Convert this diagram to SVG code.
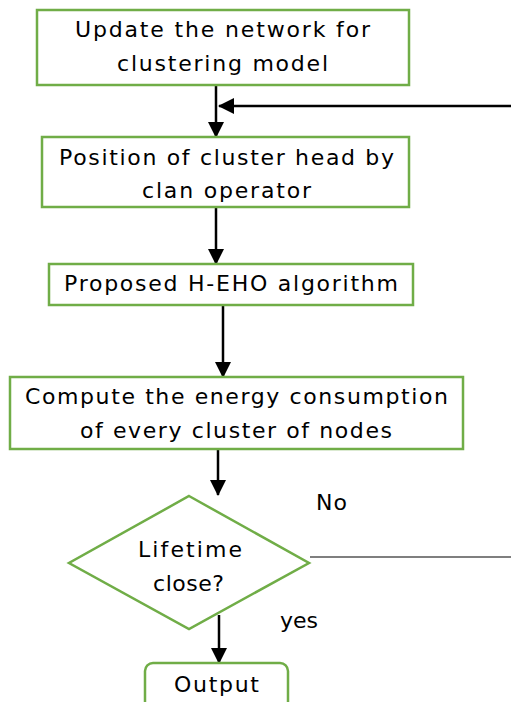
<svg xmlns="http://www.w3.org/2000/svg" width="511" height="702" viewBox="0 0 511 702">
<defs>
<marker id="ah" viewBox="0 0 16 16" refX="15" refY="8" markerWidth="16" markerHeight="16" markerUnits="userSpaceOnUse" orient="auto">
<path d="M0,0 L16,8 L0,16 Z" fill="#000"/>
</marker>
<style>
.box{fill:#fff;stroke:#70ad47;stroke-width:2.5}
.t{font-family:"DejaVu Sans",sans-serif;font-size:22px;fill:#000;text-anchor:middle}
.l{font-family:"DejaVu Sans",sans-serif;font-size:22px;fill:#000}
.c{stroke:#000;stroke-width:2.5;fill:none}
</style>
</defs>
<rect width="511" height="702" fill="#fff"/>
<g id="connectors">
<line class="c" x1="216" y1="85" x2="216" y2="137" marker-end="url(#ah)"/>
<line class="c" x1="511" y1="106" x2="219" y2="106" marker-end="url(#ah)"/>
<line class="c" x1="216" y1="207" x2="216" y2="264" marker-end="url(#ah)"/>
<line class="c" x1="223" y1="305" x2="223" y2="377" marker-end="url(#ah)"/>
<line class="c" x1="218" y1="449" x2="218" y2="495" marker-end="url(#ah)"/>
<line x1="310" y1="557" x2="511" y2="557" stroke="#555" stroke-width="1.5"/>
<line class="c" x1="219" y1="615" x2="219" y2="663" marker-end="url(#ah)"/>
<text class="l" x="316" y="510" textLength="31" lengthAdjust="spacing">No</text>
<text class="l" x="280" y="628" textLength="38" lengthAdjust="spacing">yes</text>
</g>
<g id="n1">
<rect class="box" x="37" y="10" width="372" height="75"/>
<text class="t" x="222.5" y="37" textLength="295" lengthAdjust="spacing">Update the network for</text>
<text class="t" x="222.5" y="71" textLength="211" lengthAdjust="spacing">clustering model</text>
</g>
<g id="n2">
<rect class="box" x="42" y="137" width="367" height="70"/>
<text class="t" x="226.5" y="165" textLength="335" lengthAdjust="spacing">Position of cluster head by</text>
<text class="t" x="226.5" y="198" textLength="169" lengthAdjust="spacing">clan operator</text>
</g>
<g id="n3">
<rect class="box" x="49" y="264" width="364" height="41"/>
<text class="t" x="231" y="291" textLength="334" lengthAdjust="spacing">Proposed H-EHO algorithm</text>
</g>
<g id="n4">
<rect class="box" x="10" y="377" width="453" height="72"/>
<text class="t" x="236.5" y="404" textLength="423" lengthAdjust="spacing">Compute the energy consumption</text>
<text class="t" x="236" y="438" textLength="312" lengthAdjust="spacing">of every cluster of nodes</text>
</g>
<g id="n5">
<polygon class="box" points="189,496 309,563 189,629 69,563"/>
<text class="t" x="190" y="557" textLength="104" lengthAdjust="spacing">Lifetime</text>
<text class="t" x="188.5" y="591" textLength="71" lengthAdjust="spacing">close?</text>
</g>
<g id="n6">
<rect class="box" x="145" y="663" width="143" height="60" rx="8"/>
<text class="t" x="216.5" y="692" textLength="85" lengthAdjust="spacing">Output</text>
</g>
</svg>
